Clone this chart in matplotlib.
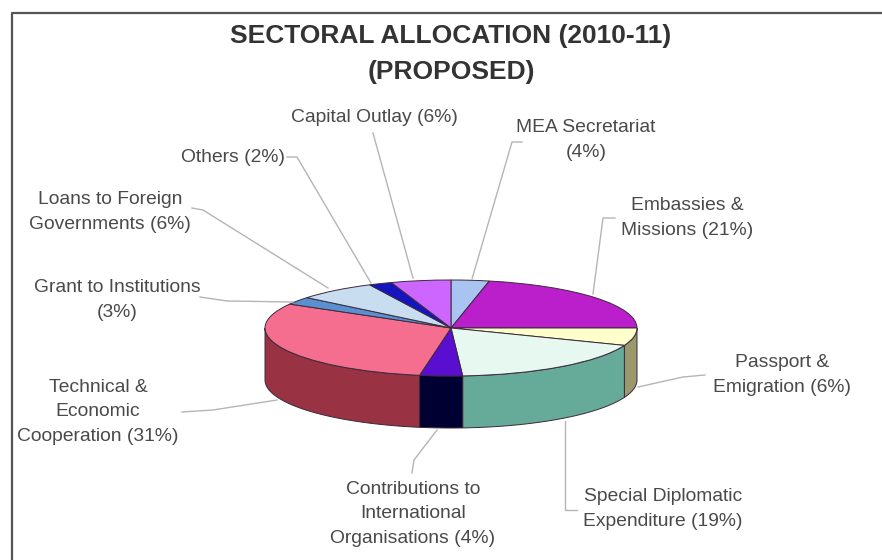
import numpy as np
import matplotlib
matplotlib.use('Agg')
import matplotlib.pyplot as plt

# clockwise from the top (the printed % sum to 102)
sectors = ['MEA Secretariat\n(4%)', 'Embassies &\nMissions (21%)', 'Passport &\nEmigration (6%)',
           'Special Diplomatic\nExpenditure (19%)', 'Contributions to\nInternational\nOrganisations (4%)',
           'Technical &\nEconomic\nCooperation (31%)', 'Grant to Institutions\n(3%)',
           'Loans to Foreign\nGovernments (6%)', 'Others (2%)', 'Capital Outlay (6%)']
shares = [3.3, 21.7, 5.9, 18.1, 3.7, 30.6, 2.6, 6.9, 2.0, 5.2]
top_colors = ['#A9C4F0', '#BB1FCB', '#FFFFCC', '#E6F8F0', '#5A0FD0',
              '#F56E90', '#5A90D0', '#C8DDF0', '#1515C0', '#CC66FF']
side_colors = ['#7F93B4', '#8C1798', '#99996B', '#66AA99', '#000033',
               '#993344', '#446C9C', '#96A6B4', '#101090', '#994CBF']

# pie geometry in pixels
cx, cy, rx, ry, depth = 451, 328, 186, 48, 52
W, H = 882, 560
line_col = '#3a2a3a'
text_col = '#4a4a4a'

fig = plt.figure(figsize=(W / 100, H / 100), dpi=100)
plt.rcParams['font.family'] = ['Liberation Sans', 'DejaVu Sans']

# the pie lives in data units, squashed by the axes limits
ax = fig.add_axes([0, 0, 1, 1])
ax.pie(shares, colors=top_colors, startangle=90, counterclock=False,
       wedgeprops={'edgecolor': line_col, 'linewidth': 0.7, 'zorder': 3})
ax.set_aspect('auto')
ax.set_xlim(-cx / rx, (W - cx) / rx)
ax.set_ylim((cy - H) / ry, cy / ry)

# side wall, only the front half shows
drop = depth / ry
edges = np.cumsum([0] + shares) * 3.6
for i in range(len(shares)):
    a = max(edges[i], 90)
    b = min(edges[i + 1], 270)
    if b <= a:
        continue
    t = np.radians(np.linspace(a, b, 40))
    xs = np.sin(t)
    ys = np.cos(t)
    ax.fill(np.r_[xs, xs[::-1]], np.r_[ys, ys[::-1] - drop],
            facecolor=side_colors[i], edgecolor=line_col, linewidth=0.7, zorder=2)

# labels and leader lines in pixel coordinates
ov = fig.add_axes([0, 0, 1, 1], facecolor='none')
ov.set_xlim(0, W)
ov.set_ylim(H, 0)
ov.axis('off')

# frame: left and top only, the right side runs off the image
ov.plot([12, 12, 882], [560, 13, 13], color='#555555', lw=1.6)

ov.text(451, 36, 'SECTORAL ALLOCATION (2010-11)', ha='center', va='center',
        fontsize=19, fontweight='bold', color='#333333')
ov.text(451, 72, '(PROPOSED)', ha='center', va='center',
        fontsize=19, fontweight='bold', color='#333333')

label_pos = [(586, 140), (687, 218), (782, 375), (663, 509), (413, 514),
             (98, 412), (117, 300), (110, 212), (233, 158), (374, 118)]
leaders = [[(522, 142), (512, 142), (472, 279)],
           [(615, 218), (603, 218), (593, 294)],
           [(705, 375), (683, 377), (638, 387)],
           [(577, 510), (565, 510), (565, 421)],
           [(412, 473), (414, 460), (437, 430)],
           [(182, 412), (213, 410), (277, 400)],
           [(200, 297), (227, 301), (293, 302)],
           [(192, 208), (203, 210), (328, 288)],
           [(287, 157), (297, 157), (371, 283)],
           [(373, 133), (413, 278)]]
for name, (x, y), pts in zip(sectors, label_pos, leaders):
    ov.text(x, y, name, ha='center', va='center', fontsize=13.9,
            color=text_col, linespacing=1.55)
    ov.plot([p[0] for p in pts], [p[1] for p in pts], color='#b5b5b5', lw=1.0)

fig.savefig('out.png', dpi=100, facecolor='white')
plt.close(fig)
